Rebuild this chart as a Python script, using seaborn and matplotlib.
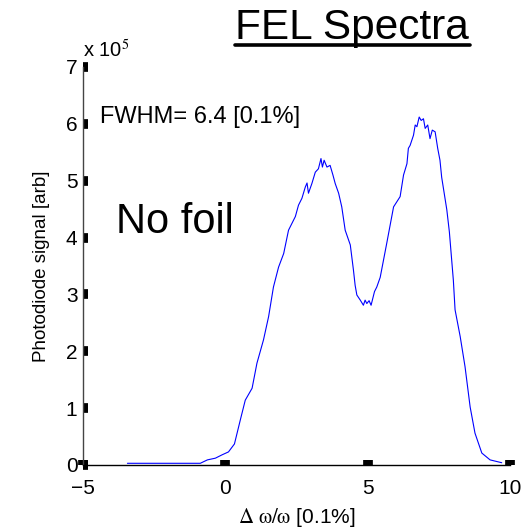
import matplotlib
matplotlib.use("Agg")
import matplotlib.pyplot as plt
import seaborn as sns
import pandas as pd

# Spectrum (x in 0.1 % units, signal in units of 1e5)
delta_omega = [-3.44, -0.88, -0.63, -0.35, -0.11, 0.11, 0.32, 0.53, 0.70, 0.94, 1.11, 1.34,
               1.52, 1.69, 1.87, 2.05, 2.22, 2.46, 2.57, 2.69, 2.81, 2.87, 2.92, 3.04, 3.16,
               3.27, 3.36, 3.41, 3.47, 3.57, 3.68, 3.78, 3.86, 3.98, 4.09, 4.21, 4.39, 4.50,
               4.56, 4.62, 4.74, 4.85, 4.91, 4.97, 5.05, 5.12, 5.24, 5.32, 5.44, 5.67, 5.91,
               6.14, 6.26, 6.38, 6.43, 6.49, 6.61, 6.67, 6.73, 6.81, 6.88, 6.96, 7.02, 7.11,
               7.19, 7.27, 7.37, 7.46, 7.54, 7.60, 7.78, 7.87, 8.01, 8.07, 8.25, 8.42, 8.60,
               8.77, 9.01, 9.30, 9.71]
signal = [0.03, 0.03, 0.09, 0.12, 0.18, 0.23, 0.37, 0.80, 1.14, 1.35, 1.79, 2.20,
          2.61, 3.13, 3.48, 3.72, 4.13, 4.37, 4.57, 4.69, 4.89, 4.96, 4.78, 4.95, 5.15,
          5.21, 5.39, 5.24, 5.36, 5.24, 5.27, 5.10, 4.95, 4.78, 4.54, 4.13, 3.87, 3.43,
          3.16, 2.99, 2.90, 2.81, 2.90, 2.84, 2.89, 2.81, 3.05, 3.13, 3.30, 3.90, 4.54,
          4.72, 5.10, 5.30, 5.57, 5.62, 5.80, 5.98, 5.95, 6.12, 6.06, 6.09, 5.92, 5.98,
          5.74, 5.89, 5.86, 5.57, 5.36, 5.06, 4.49, 4.10, 3.25, 2.73, 2.26, 1.73, 1.02,
          0.56, 0.21, 0.09, 0.04]
x_ticks = [-5, 0, 5, 10]
x_tick_labels = ["\u22125", "0", "5", "10"]
y_ticks = [0, 1, 2, 3, 4, 5, 6, 7]

sns.set_style("white")
plt.rcParams['font.family'] = ['Liberation Sans', 'DejaVu Sans']
plt.rcParams['mathtext.fontset'] = 'stix'
for k in ["text.color", "axes.labelcolor", "xtick.color", "ytick.color"]:
    plt.rcParams[k] = "black"

df = pd.DataFrame({"x": delta_omega, "y": signal})

fig = plt.figure(figsize=(5.27, 5.31), dpi=100)
ax = fig.add_axes([83/527, 1 - 465/531, (510 - 83)/527, (465 - 67)/531])
sns.lineplot(data=df, x="x", y="y", ax=ax, color="#0000ff", linewidth=0.8,
             sort=False, estimator=None)

ax.set_xlim(-5, 10)
ax.set_ylim(0, 7)
ax.set_xticks(x_ticks)
ax.set_xticklabels(x_tick_labels)
ax.set_yticks(y_ticks)
ax.set_yticklabels([str(v) for v in y_ticks])

for s in ["top", "right"]:
    ax.spines[s].set_visible(False)
ax.spines["left"].set_color("#444444")
ax.spines["left"].set_linewidth(1.0)
ax.spines["bottom"].set_color("black")
ax.spines["bottom"].set_linewidth(1.0)

ax.tick_params(axis="both", direction="in", length=3.8, width=7, color="black",
               labelsize=15, labelcolor="black", bottom=True, left=True)
ax.tick_params(axis="x", pad=10)
ax.tick_params(axis="y", pad=4)

ax.set_xlabel(r"$\mathrm{\Delta\ \omega/\omega}$ [0.1%]", fontsize=15, labelpad=6)
ax.set_ylabel("Photodiode signal [arb]", fontsize=13.5, labelpad=11)

fig.text(83/527, 1 - 50/531, r"x 10$^{5}$", fontsize=14.5, ha="left", va="center")
fig.text(100/527, 1 - 117/531, "FWHM= 6.4 [0.1%]", fontsize=17, ha="left", va="center")
fig.text(116/527, 1 - 233/531, "No foil", fontsize=30, ha="left", va="baseline")

fig.text(352/527, 1 - 39/531, "FEL Spectra", fontsize=30.5, ha="center", va="baseline")
fig.add_artist(plt.Line2D([235/527, 470/527], [1 - 45/531, 1 - 45/531],
                          color="black", linewidth=2.6, transform=fig.transFigure))

fig.savefig("out.png", dpi=100)
